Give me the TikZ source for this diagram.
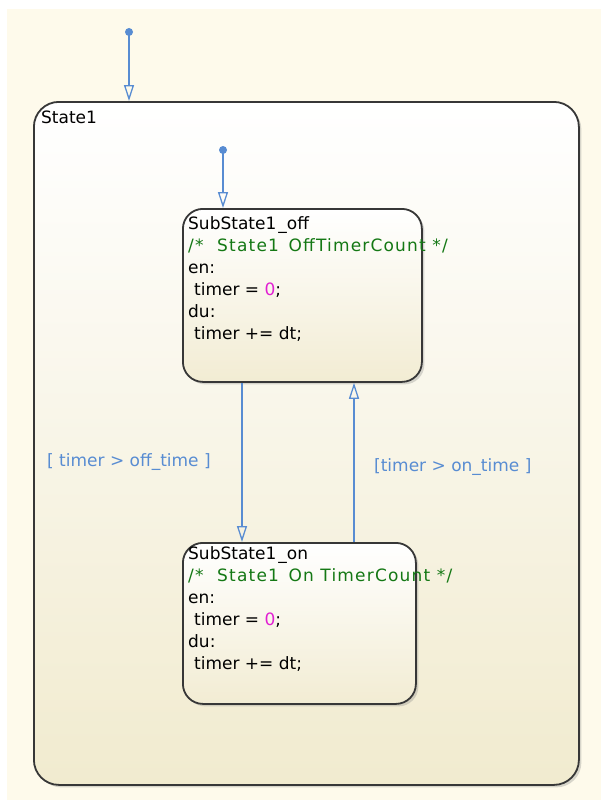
\documentclass[tikz,border=0pt]{standalone}
\usepackage{fontspec}
\setmainfont{DejaVu Sans}
\usetikzlibrary{arrows.meta,shadows,calc}
\definecolor{bgcream}{RGB}{254,250,235}
\definecolor{stbot}{RGB}{241,235,207}
\definecolor{subbot}{RGB}{242,236,211}
\definecolor{edgecol}{RGB}{55,55,55}
\definecolor{tblue}{RGB}{88,140,210}
\definecolor{cgreen}{RGB}{20,120,20}
\definecolor{cmag}{RGB}{225,30,210}
\begin{document}
\begin{tikzpicture}[x=1pt,y=1pt,
  statebox/.style={draw=edgecol, line width=1.8pt, rounded corners=20pt,
    top color=white, bottom color=subbot,
    drop shadow={shadow xshift=2.5pt, shadow yshift=-2.5pt, opacity=0.3},
    inner sep=0pt, anchor=north west},
  txt/.style={anchor=base west, inner sep=0pt, font=\fontsize{17}{22}\selectfont},
  cmt/.style={txt, text=cgreen, font=\fontsize{17}{22}\selectfont\addfontfeature{LetterSpace=7}},
  lbl/.style={txt, text=tblue},
  trans/.style={draw=tblue, line width=1.5pt, -{Triangle[open, length=16pt, width=10pt, line width=1.3pt]}},
  dotst/.style={fill=tblue},
]
\useasboundingbox (0,0) rectangle (600,-800);
\fill[white] (-5,5) rectangle (610,-810);
\fill[bgcream] (7,-9) rectangle (610,-810);

% outer state
\node[statebox, rounded corners=25pt, bottom color=stbot,
  minimum width=545pt, minimum height=683pt] (state1) at (33,-101) {};
\node[txt] (s1lbl) at (41,-123) {State1};

% sub states
\node[statebox, minimum width=239pt, minimum height=173pt] (off) at (182,-208) {};
\node[statebox, minimum width=233pt, minimum height=161pt] (on) at (182,-542) {};

% text of SubState1_off
\node[txt] (off1) at (188,-229) {SubState1\kern2pt\_off};
\node[cmt] (off2) at (188,-251) {/*\hspace{7pt} State1\hspace{3pt} OffTimerCount */};
\node[txt] (off3) at (188,-273) {en:};
\node[txt] (off4) at (194,-295) {timer = {\color{cmag}0};};
\node[txt] (off5) at (188,-317) {du:};
\node[txt] (off6) at (194,-339) {timer += dt;};

% text of SubState1_on
\node[txt] (on1) at (188,-559) {SubState1\kern2pt\_on};
\node[cmt] (on2) at (188,-581) {/*\hspace{7pt} State1\hspace{3pt} On TimerCount */};
\node[txt] (on3) at (188,-603) {en:};
\node[txt] (on4) at (194,-625) {timer = {\color{cmag}0};};
\node[txt] (on5) at (188,-647) {du:};
\node[txt] (on6) at (194,-669) {timer += dt;};

% default transitions
\coordinate (d1) at (129,-32);
\fill[dotst] (d1) circle (4pt);
\draw[trans] (d1) -- (d1 |- state1.north);
\coordinate (d2) at (223,-150);
\fill[dotst] (d2) circle (4pt);
\draw[trans] (d2) -- (d2 |- off.north);

% transitions between substates
\coordinate (xa) at (242,0);
\coordinate (xb) at (354,0);
\draw[trans] (xa |- off.south) -- (xa |- on.north);
\draw[trans] (xb |- on.north) -- (xb |- off.south);

\node[lbl] (lbla) at (47,-466) {[ timer > off\_time ]};
\node[lbl] (lblb) at (374,-471) {[timer > on\_time ]};
\end{tikzpicture}
\end{document}
